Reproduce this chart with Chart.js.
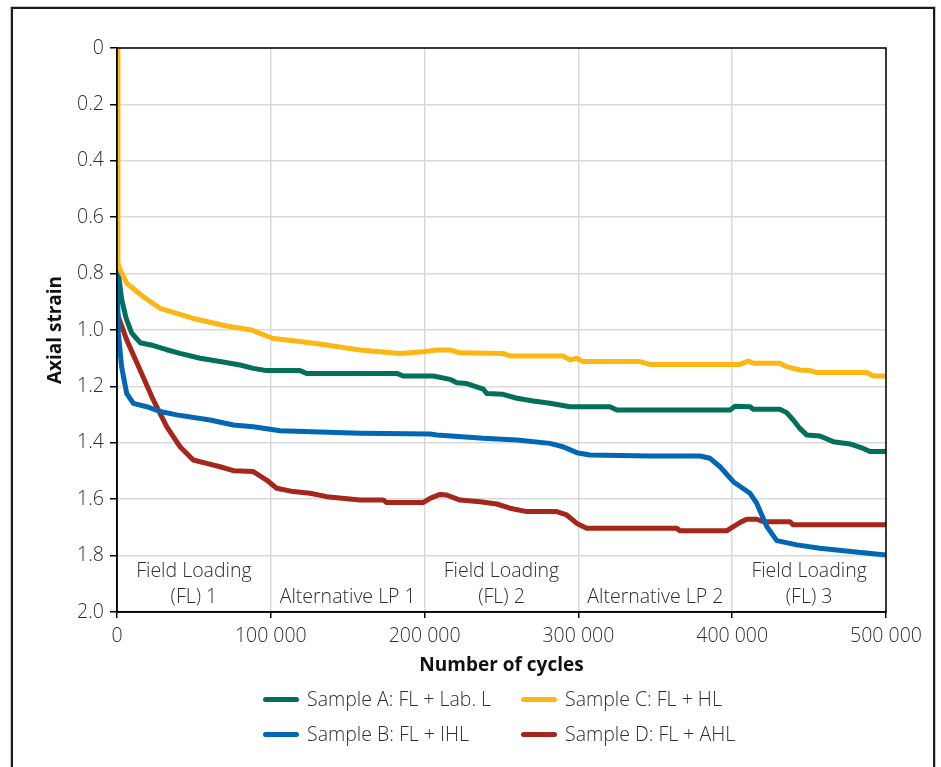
<!DOCTYPE html>
<html>
<head>
<meta charset="utf-8">
<script src="https://cdn.jsdelivr.net/npm/chart.js@4/dist/chart.umd.min.js"></script>
<style>
  html, body { margin: 0; padding: 0; background: #fff; }
  #wrap { position: relative; width: 941px; height: 767px; overflow: hidden; }
  #frame {
    position: absolute; left: 11px; top: 7px; width: 920px; height: 800px;
    border: 2px solid #1c1c1c; box-shadow: 0 0 0 1px #c8c8c8;
  }
  canvas { position: absolute; left: 0; top: 0; }
  .legend-row { position: absolute; left: 0; height: 26px; font-family: "Open Sans", sans-serif;
    font-size: 19.5px; font-weight: 300; color: #2e2e2e; }
  .item { position: absolute; top: 0; height: 26px; line-height: 26px; white-space: nowrap; }
  .swatch { position: absolute; top: 10.5px; width: 36px; height: 5px; border-radius: 3px; }
  .label { position: absolute; top: 0; }
</style>
</head>
<body>
<div id="wrap">
  <div id="frame"></div>
  <canvas id="chart" width="941" height="767"></canvas>
  <div id="legend"></div>
</div>
<script>
// Axial strain against number of load cycles for four samples
const seriesNames = [
  'Sample A: FL + Lab. L',
  'Sample B: FL + IHL',
  'Sample C: FL + HL',
  'Sample D: FL + AHL'
];
const seriesColors = ['#00705A', '#0067B4', '#FDB714', '#A5261B'];

const cyclesA = [0, 3000, 6000, 9500, 15000, 23600, 32300, 41000, 54000, 67000, 80000, 88600, 97300, 119000, 123300, 158000, 182000, 186000, 205700, 216500, 221000, 227400, 238200, 240400, 251000, 260000, 270700, 281500, 294500, 320500, 325000, 398600, 401800, 411600, 413700, 431000, 435400, 439700, 444000, 448400, 457000, 465700, 476600, 485200, 489600, 500000];
const strainA = [0.76, 0.89, 0.96, 1.01, 1.045, 1.055, 1.07, 1.083, 1.10, 1.112, 1.124, 1.136, 1.144, 1.144, 1.154, 1.154, 1.154, 1.163, 1.163, 1.175, 1.187, 1.19, 1.21, 1.225, 1.228, 1.242, 1.252, 1.26, 1.272, 1.272, 1.284, 1.284, 1.27, 1.272, 1.281, 1.281, 1.293, 1.319, 1.349, 1.372, 1.376, 1.396, 1.404, 1.42, 1.431, 1.431];

const cyclesB = [0, 900, 3000, 6300, 10600, 19300, 28000, 38800, 60500, 75700, 88600, 106000, 158000, 203500, 208000, 238200, 260000, 281500, 290000, 299000, 307500, 346500, 379000, 385600, 392100, 400700, 411600, 416000, 422500, 429000, 442000, 457000, 478700, 500000];
const strainB = [0.78, 1.012, 1.13, 1.225, 1.26, 1.272, 1.289, 1.301, 1.319, 1.337, 1.343, 1.357, 1.366, 1.369, 1.372, 1.384, 1.39, 1.402, 1.414, 1.435, 1.443, 1.447, 1.447, 1.455, 1.485, 1.538, 1.579, 1.615, 1.697, 1.747, 1.762, 1.774, 1.786, 1.798];

const cyclesC = [0, 600, 1500, 6300, 17100, 28000, 49600, 71300, 87600, 93000, 101600, 119000, 136300, 158000, 184000, 199000, 207900, 216500, 223000, 251000, 255500, 290000, 294500, 299000, 303000, 340000, 346500, 405000, 410500, 413700, 431000, 435400, 444000, 450600, 455000, 487500, 491800, 500000];
const strainC = [0, 0.76, 0.78, 0.834, 0.882, 0.923, 0.959, 0.986, 1.0, 1.012, 1.03, 1.041, 1.053, 1.071, 1.083, 1.077, 1.071, 1.071, 1.081, 1.083, 1.092, 1.092, 1.106, 1.10, 1.112, 1.112, 1.122, 1.122, 1.11, 1.118, 1.118, 1.13, 1.142, 1.144, 1.151, 1.151, 1.163, 1.163];

const cyclesD = [0, 900, 6300, 15000, 23600, 32300, 41000, 49600, 58300, 67000, 75700, 88600, 97300, 103800, 114600, 125500, 136300, 158000, 173100, 175300, 199000, 203500, 210000, 214300, 223000, 236000, 246900, 255500, 266400, 285900, 292400, 299000, 305400, 364000, 366000, 396400, 400700, 405000, 409400, 416000, 420300, 437600, 439700, 500000];
const strainD = [0.93, 0.953, 1.035, 1.142, 1.248, 1.343, 1.414, 1.461, 1.473, 1.485, 1.499, 1.502, 1.532, 1.561, 1.573, 1.579, 1.591, 1.603, 1.603, 1.612, 1.612, 1.597, 1.583, 1.585, 1.603, 1.609, 1.617, 1.632, 1.644, 1.644, 1.656, 1.686, 1.703, 1.703, 1.712, 1.712, 1.697, 1.683, 1.671, 1.671, 1.68, 1.68, 1.691, 1.691];

// Loading phase labels placed in data coordinates
const phaseLabels = [
  ['Field Loading', '(FL) 1'],
  ['Alternative LP 1'],
  ['Field Loading', '(FL) 2'],
  ['Alternative LP 2'],
  ['Field Loading', '(FL) 3']
];
const phaseCenters = [50000, 150000, 250000, 350000, 450000];

const xTicks = [0, 100000, 200000, 300000, 400000, 500000];
const yTicks = [0, 0.2, 0.4, 0.6, 0.8, 1.0, 1.2, 1.4, 1.6, 1.8, 2.0];

const FONT = '"Open Sans", sans-serif';
const TEXT = '#2e2e2e';
const FSIZE = 19.5;

function pts(xs, ys) { return xs.map((x, i) => ({ x: x, y: ys[i] })); }

const allCycles = [cyclesA, cyclesB, cyclesC, cyclesD];
const allStrain = [strainA, strainB, strainC, strainD];
const drawOrder = [3, 1, 0, 2]; // lower draws on top

const datasets = seriesNames.map((name, i) => ({
  label: name,
  data: pts(allCycles[i], allStrain[i]),
  borderColor: seriesColors[i],
  backgroundColor: seriesColors[i],
  borderWidth: 5,
  pointRadius: 0,
  tension: 0,
  fill: false,
  borderCapStyle: 'round',
  borderJoinStyle: 'round',
  order: drawOrder[i]
}));

function fmtThousands(v) {
  return String(v).replace(/\B(?=(\d{3})+(?!\d))/g, ' ');
}

const frameAndPhases = {
  id: 'frameAndPhases',
  afterDatasetsDraw(chart) {
    const { ctx, chartArea: a, scales } = chart;
    ctx.save();
    ctx.strokeStyle = '#000';
    ctx.lineWidth = 1.5;
    ctx.strokeRect(a.left, a.top, a.right - a.left, a.bottom - a.top);
    ctx.fillStyle = TEXT;
    ctx.font = '300 ' + FSIZE + 'px ' + FONT;
    ctx.textAlign = 'center';
    ctx.textBaseline = 'middle';
    phaseLabels.forEach((lines, i) => {
      const x = scales.x.getPixelForValue(phaseCenters[i]);
      const yLast = scales.y.getPixelForValue(1.95);
      lines.forEach((t, j) => {
        const y = yLast - (lines.length - 1 - j) * 26;
        ctx.fillText(t, x, y);
      });
    });
    ctx.restore();
  }
};

new Chart(document.getElementById('chart'), {
  type: 'line',
  data: { datasets },
  options: {
    responsive: false,
    animation: false,
    layout: { padding: { top: 48, right: 55, left: 0, bottom: 85 } },
    plugins: { legend: { display: false }, tooltip: { enabled: false } },
    scales: {
      x: {
        type: 'linear', min: 0, max: 500000,
        afterBuildTicks(s) { s.ticks = xTicks.map(v => ({ value: v })); },
        afterFit(s) { s.height = 70; },
        ticks: { color: TEXT, font: { family: FONT, size: FSIZE, weight: 300 }, padding: 7, maxRotation: 0,
          callback: v => fmtThousands(v) },
        grid: { color: '#d9d9d9', lineWidth: 1.5, tickColor: '#000', tickLength: 6, tickWidth: 1.5 },
        border: { color: '#000', width: 1.5 },
        title: { display: true, text: 'Number of cycles', color: '#111',
          font: { family: FONT, size: 19, weight: 'bold' }, padding: { top: 0, bottom: 5 } }
      },
      y: {
        type: 'linear', min: 0, max: 2, reverse: true,
        afterBuildTicks(s) { s.ticks = yTicks.map(v => ({ value: v })); },
        afterFit(s) { s.width = 117; },
        ticks: { color: TEXT, font: { family: FONT, size: FSIZE, weight: 300 }, padding: 6,
          callback: v => (v === 0 ? '0' : v.toFixed(1)) },
        grid: { color: '#d9d9d9', lineWidth: 1.5, tickColor: '#000', tickLength: 7, tickWidth: 1.5 },
        border: { color: '#000', width: 1.5 },
        title: { display: true, text: 'Axial strain', color: '#111',
          font: { family: FONT, size: 19, weight: 'bold' }, padding: { top: 44, bottom: 0 } }
      }
    }
  },
  plugins: [frameAndPhases]
});

// Two-column legend below the chart
const legend = document.getElementById('legend');
const legendLayout = [
  { idx: 0, row: 0, col: 0 }, { idx: 2, row: 0, col: 1 },
  { idx: 1, row: 1, col: 0 }, { idx: 3, row: 1, col: 1 }
];
const colX = [263, 521];
const rowY = [686, 721];
legendLayout.forEach(it => {
  const el = document.createElement('div');
  el.className = 'legend-row';
  el.style.top = rowY[it.row] + 'px';
  el.innerHTML = '<div class="item" style="left:' + colX[it.col] + 'px">' +
    '<div class="swatch" style="left:0;background:' + seriesColors[it.idx] + '"></div>' +
    '<div class="label" style="left:44px">' + seriesNames[it.idx] + '</div></div>';
  legend.appendChild(el);
});
</script>
</body>
</html>
